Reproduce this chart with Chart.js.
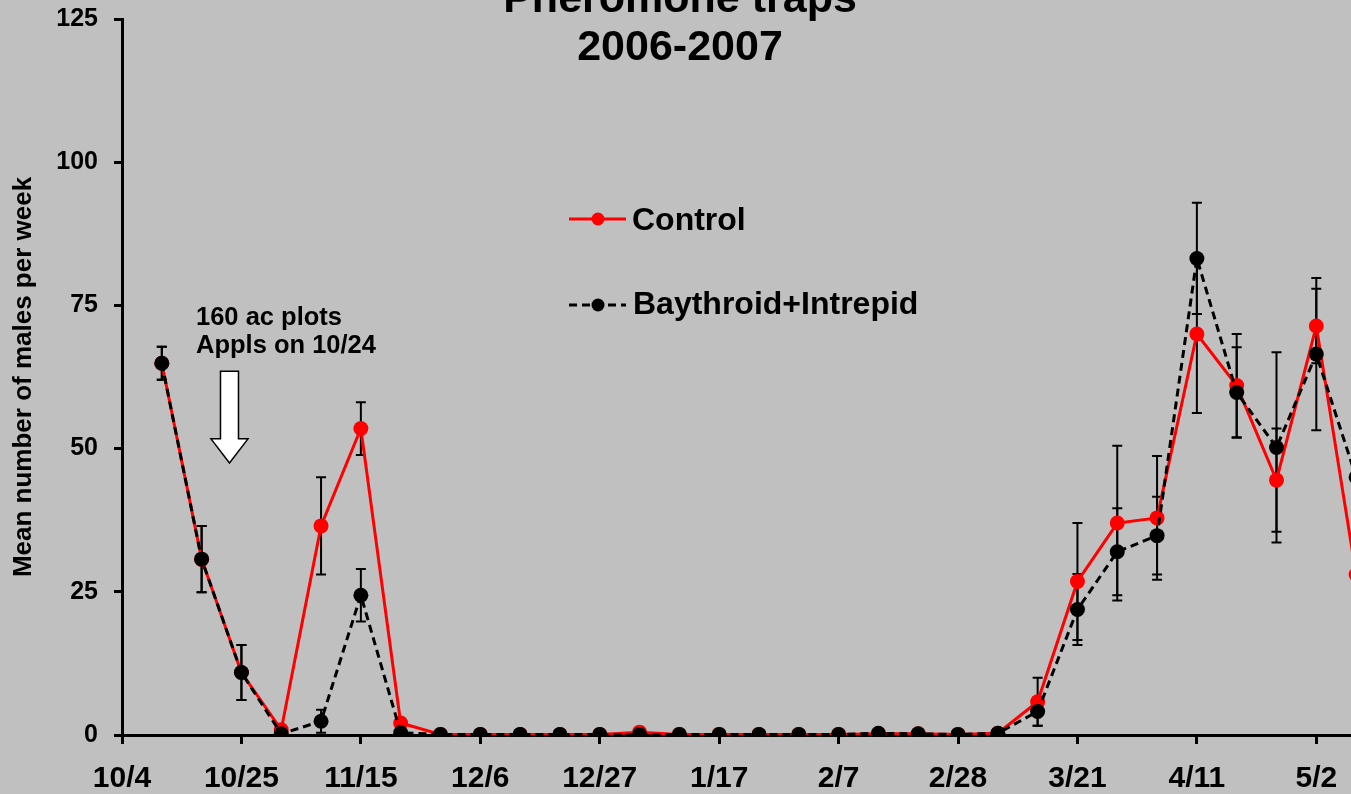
<!DOCTYPE html>
<html><head><meta charset="utf-8">
<script src="https://cdn.jsdelivr.net/npm/chart.js@4.4.1/dist/chart.umd.min.js"></script>
<style>html,body{margin:0;padding:0;background:#c0c0c0;overflow:hidden}canvas{display:block}</style>
</head><body>
<canvas id="c" width="1351" height="794"></canvas>
<script>
// ---- data ----
const dates = ['10/11','10/18','10/25','11/1','11/8','11/15','11/22','11/29','12/6','12/13','12/20','12/27','1/3','1/10','1/17','1/24','1/31','2/7','2/14','2/21','2/28','3/7','3/14','3/21','3/28','4/4','4/11','4/18','4/25','5/2','5/9'];
const control    = [64.9,30.7,10.9,0.9,36.5,53.5,2.1,0.1,0.1,0.1,0.1,0.1,0.5,0.1,0.1,0.1,0.1,0.1,0.2,0.2,0.1,0.3,5.8,26.8,37.0,37.9,70.0,61.0,44.5,71.4,28.0];
const controlErr = [2.9,5.8,4.8,0,8.5,4.6,0,0,0,0,0,0,0,0,0,0,0,0,0,0,0,0,4.2,10.2,13.5,10.8,13.8,9.0,9.0,6.5,0];
const baythroid    = [64.9,30.7,10.9,0.2,2.4,24.4,0.4,0.1,0.1,0.1,0.1,0.1,0.1,0.1,0.1,0.1,0.1,0.1,0.3,0.2,0.1,0.3,4.1,21.9,32.0,34.8,83.2,59.8,50.2,66.5,45.0];
const baythroidErr = [2.9,5.8,4.8,0,2.0,4.6,0,0,0,0,0,0,0,0,0,0,0,0,0,0,0,0,2.5,6.2,7.6,6.8,9.7,7.9,16.6,13.3,0];
const tickLabels = ['10/4','10/25','11/15','12/6','12/27','1/17','2/7','2/28','3/21','4/11','5/2'];
const yTicks = [0,25,50,75,100,125];
const titleLines = ['Pheromone traps','2006-2007'];
const seriesNames = ['Control','Baythroid+Intrepid'];
const yTitle = 'Mean number of males per week';
const noteLines = ['160 ac plots','Appls on 10/24'];

// ---- helpers ----
function dayOf(md){
  const [m,d] = md.split('/').map(Number);
  const y = m >= 9 ? 2006 : 2007;
  return Math.round((Date.UTC(y,m-1,d) - Date.UTC(2006,9,4)) / 86400000);
}
const xDays = dates.map(dayOf);
const tickDays = tickLabels.map(dayOf);
const FONT = "'Liberation Sans', Arial, Helvetica, sans-serif";

const ctrlPts = xDays.map((x,i)=>({x, y: control[i]}));
const bayPts = xDays.map((x,i)=>({x, y: baythroid[i]}));
const errs = [controlErr, baythroidErr];

const bgPlugin = {
  id:'bg',
  beforeDraw(chart){
    const c = chart.ctx; c.save(); c.fillStyle = '#c0c0c0';
    c.fillRect(0,0,chart.width,chart.height); c.restore();
  }
};

const errPlugin = {
  id:'errbars',
  beforeDatasetsDraw(chart){
    const c = chart.ctx, xs = chart.scales.x, ys = chart.scales.y, a = chart.chartArea;
    c.save();
    c.beginPath(); c.rect(a.left, a.top - 10, a.right - a.left, a.bottom - a.top + 20); c.clip();
    c.strokeStyle = '#000'; c.lineWidth = 2;
    chart.data.datasets.forEach((ds) => {
      const e = errs[ds.errIndex];
      ds.data.forEach((p, i) => {
        if (!e[i]) return;
        const px = xs.getPixelForValue(p.x);
        const y1 = ys.getPixelForValue(p.y + e[i]);
        const y2 = ys.getPixelForValue(Math.max(0, p.y - e[i]));
        c.beginPath();
        c.moveTo(px, y1); c.lineTo(px, y2);
        c.moveTo(px - 5, y1); c.lineTo(px + 5, y1);
        c.moveTo(px - 5, y2); c.lineTo(px + 5, y2);
        c.stroke();
      });
    });
    c.restore();
  }
};

const overlayPlugin = {
  id:'overlay',
  afterDraw(chart){
    const c = chart.ctx, xs = chart.scales.x, ys = chart.scales.y;
    c.save();
    // title
    c.fillStyle = '#000';
    c.font = 'bold 43px ' + FONT;
    c.textAlign = 'center'; c.textBaseline = 'alphabetic';
    c.fillText(titleLines[0], 680, 11.5);
    c.fillText(titleLines[1], 680, 60);

    // legend
    c.lineWidth = 3;
    c.strokeStyle = '#ff0000';
    c.beginPath(); c.moveTo(569, 219); c.lineTo(626, 219); c.stroke();
    c.fillStyle = '#ff0000';
    c.beginPath(); c.arc(598, 219, 6.5, 0, Math.PI*2); c.fill();
    c.strokeStyle = '#000';
    c.setLineDash([8,5]);
    c.beginPath(); c.moveTo(569, 305); c.lineTo(626, 305); c.stroke();
    c.setLineDash([]);
    c.fillStyle = '#000';
    c.beginPath(); c.arc(598, 305, 6.5, 0, Math.PI*2); c.fill();
    c.font = 'bold 32px ' + FONT;
    c.textAlign = 'left'; c.textBaseline = 'alphabetic';
    c.fillText(seriesNames[0], 632, 230);
    c.fillText(seriesNames[1], 633, 314);

    // annotation text
    c.font = 'bold 25.5px ' + FONT;
    c.fillText(noteLines[0], 196, 325);
    c.fillText(noteLines[1], 196, 353);

    // arrow (block arrow, white with black outline)
    const cx = xs.getPixelForValue(18.9);
    const yTop = ys.getPixelForValue(63.5);
    const yBase = ys.getPixelForValue(51.7);
    const yTip = ys.getPixelForValue(47.5);
    c.beginPath();
    c.moveTo(cx - 9, yTop); c.lineTo(cx + 9, yTop); c.lineTo(cx + 9, yBase);
    c.lineTo(cx + 18.5, yBase); c.lineTo(cx, yTip); c.lineTo(cx - 18.5, yBase);
    c.lineTo(cx - 9, yBase); c.closePath();
    c.fillStyle = '#fff'; c.fill();
    c.lineWidth = 1.5; c.strokeStyle = '#000'; c.stroke();
    c.restore();
  }
};

new Chart(document.getElementById('c'), {
  type:'line',
  data:{
    datasets:[
      { label: seriesNames[0], data: ctrlPts, errIndex:0, order:1,
        borderColor:'#ff0000', backgroundColor:'#ff0000', borderWidth:3,
        pointRadius:7.5, pointBackgroundColor:'#ff0000', pointBorderColor:'#ff0000', pointBorderWidth:0,
        tension:0 },
      { label: seriesNames[1], data: bayPts, errIndex:1, order:0,
        borderColor:'#000000', backgroundColor:'#000000', borderWidth:3, borderDash:[8,5],
        pointRadius:7.5, pointBackgroundColor:'#000000', pointBorderColor:'#000000', pointBorderWidth:0,
        tension:0 }
    ]
  },
  options:{
    responsive:false, animation:false, devicePixelRatio:1,
    layout:{ autoPadding:false, padding:{ top:19, right:0, bottom:0, left:0 } },
    plugins:{ legend:{display:false}, tooltip:{enabled:false}, title:{display:false} },
    scales:{
      x:{
        type:'linear', min:0, max:216.1,
        afterBuildTicks(s){ s.ticks = tickDays.map(v=>({value:v})); },
        afterFit(s){ s.height = 59; s.paddingLeft = 0; s.paddingRight = 0; },
        grid:{ drawOnChartArea:false, drawTicks:true, tickLength:9, tickWidth:3, tickColor:'#000' },
        border:{ display:true, color:'#000', width:3 },
        ticks:{ autoSkip:false, maxRotation:0, padding:17, color:'#000',
          font:{ family:FONT, size:30, weight:'bold' },
          callback(v){ const i = tickDays.indexOf(v); return i >= 0 ? tickLabels[i] : ''; } }
      },
      y:{
        type:'linear', min:0, max:125,
        afterBuildTicks(s){ s.ticks = yTicks.map(v=>({value:v})); },
        afterFit(s){ s.width = 122; s.paddingTop = 0; s.paddingBottom = 0; },
        grid:{ drawOnChartArea:false, drawTicks:true, tickLength:8, tickWidth:3, tickColor:'#000' },
        border:{ display:true, color:'#000', width:3 },
        ticks:{ padding:16, color:'#000', font:{ family:FONT, size:25, weight:'bold' } },
        title:{ display:true, text:yTitle, color:'#000', padding:{top:8,bottom:0},
          font:{ family:FONT, size:26, weight:'bold' } }
      }
    }
  },
  plugins:[bgPlugin, errPlugin, overlayPlugin]
});
</script>
</body></html>
